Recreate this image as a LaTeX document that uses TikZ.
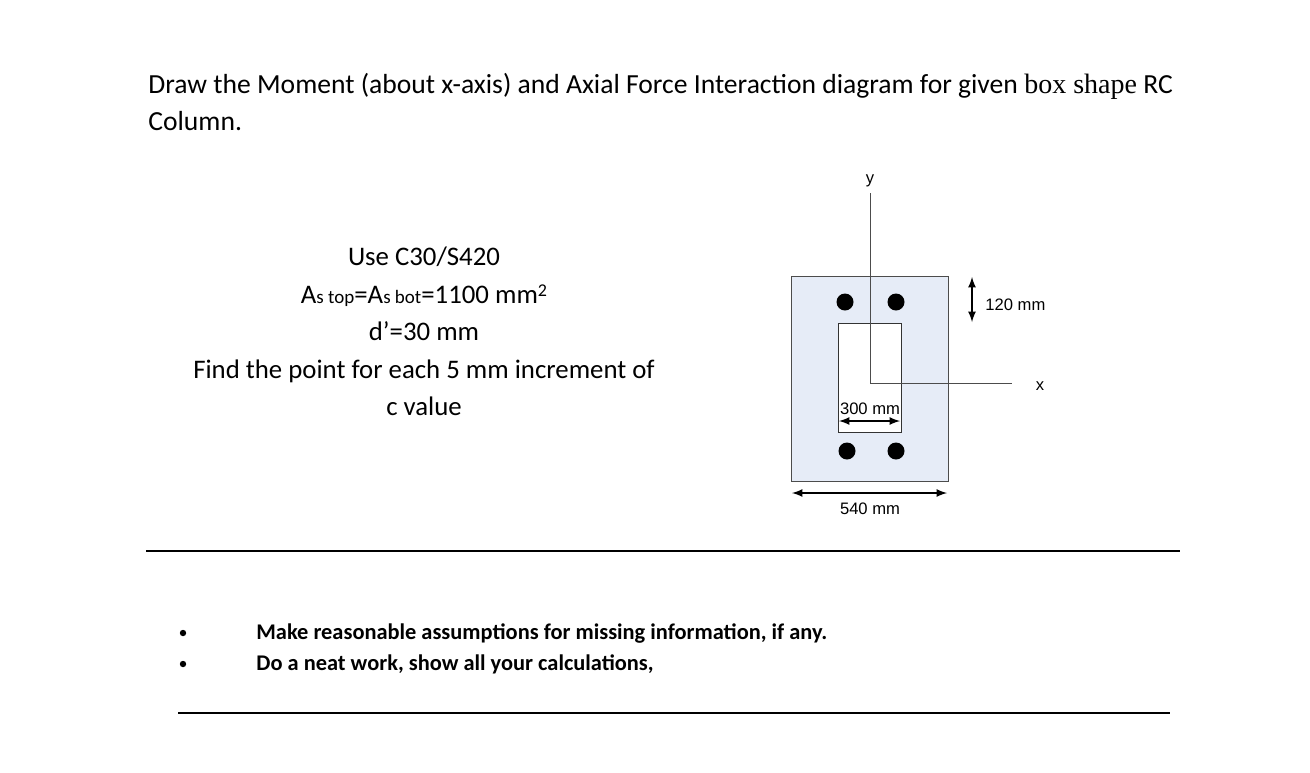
\documentclass[tikz,border=0pt]{standalone}
\usepackage{fontspec}
\setmainfont{Carlito}
\newfontfamily\arialf{Liberation Sans}
\newfontfamily\timesf{Liberation Serif}
\begin{document}
\begin{tikzpicture}[x=0.5pt,y=-0.5pt,
  txt/.style={inner sep=0pt,font=\fontsize{13.4}{15}\selectfont},
  ttl/.style={inner sep=0pt,font=\fontsize{13.8}{15}\selectfont},
  lbl/.style={inner sep=0pt,font=\arialf\fontsize{8.3}{10}\selectfont},
  bar/.style={circle,fill=black,minimum size=8.5pt,inner sep=0pt},
  dim/.style={thick,<->,>=latex},
  rule/.style={line width=0.8pt}]
\useasboundingbox (0,0) rectangle (1310,772);
\node[ttl,anchor=base west] (t1) at (148,93) {Draw the Moment (about x-axis) and Axial Force Interaction diagram for given {\timesf\fontsize{14}{15}\selectfont box shape} RC};
\node[ttl,anchor=base west] (t2) at (148,130) {Column.};
\node[txt,anchor=base] (m1) at (424,265) {Use C30/S420};
\node[txt,anchor=base] (m2) at (424,303) {A{\fontsize{9.5}{10}\selectfont s top}=A{\fontsize{9.5}{10}\selectfont s bot}=1100 mm{\fontsize{9}{10}\selectfont\raisebox{0.8ex}{2}}};
\node[txt,anchor=base] (m3) at (424,340) {d’=30 mm};
\node[txt,anchor=base] (m4) at (424,378) {Find the point for each 5 mm increment of};
\node[txt,anchor=base] (m5) at (424,415) {c value};
% section
\draw[fill={rgb,255:red,230;green,236;blue,247},draw=black!70] (791,276) rectangle (948,481);
\draw[fill=white,draw=black!80] (838,323) rectangle (901,432);
\node[bar] (b1) at (845,302) {};
\node[bar] (b2) at (896,302) {};
\node[bar] (b3) at (847,451) {};
\node[bar] (b4) at (896,451) {};
\coordinate (o) at (870,383);
\coordinate (ytop) at (870,193);
\coordinate (xend) at (1012,383);
\draw[black!70] (ytop) -- (o) -- (xend);
\node[lbl] (ylab) at (870,181) {y};
\node[lbl] (xlab) at (1040,386) {x};
\coordinate (d1a) at (972,277); \coordinate (d1b) at (972,322);
\draw[dim] (d1a) -- (d1b);
\node[lbl,anchor=west] (l120) at (985,305) {120 mm};
\coordinate (d2a) at (839,421); \coordinate (d2b) at (900,421);
\draw[dim] (d2a) -- (d2b);
\node[lbl] (l300) at (870,409) {300 mm};
\coordinate (d3a) at (792,493); \coordinate (d3b) at (947,493);
\draw[dim] (d3a) -- (d3b);
\node[lbl] (l540) at (870,509) {540 mm};
% rules
\coordinate (r1a) at (146,551); \coordinate (r1b) at (1180,551);
\draw[rule] (r1a) -- (r1b);
\coordinate (r2a) at (178,713); \coordinate (r2b) at (1170,713);
\draw[rule] (r2a) -- (r2b);
\node[circle,fill=black,minimum size=3.2pt,inner sep=0pt] (bu1) at (183,633) {};
\node[circle,fill=black,minimum size=3.2pt,inner sep=0pt] (bu2) at (183,664) {};
\node[txt,anchor=base west,font=\bfseries\fontsize{11.2}{13}\selectfont] (n1) at (256,639) {Make reasonable assumptions for missing information, if any.};
\node[txt,anchor=base west,font=\bfseries\fontsize{11.2}{13}\selectfont] (n2) at (256,670) {Do a neat work, show all your calculations,};
\end{tikzpicture}
\end{document}
